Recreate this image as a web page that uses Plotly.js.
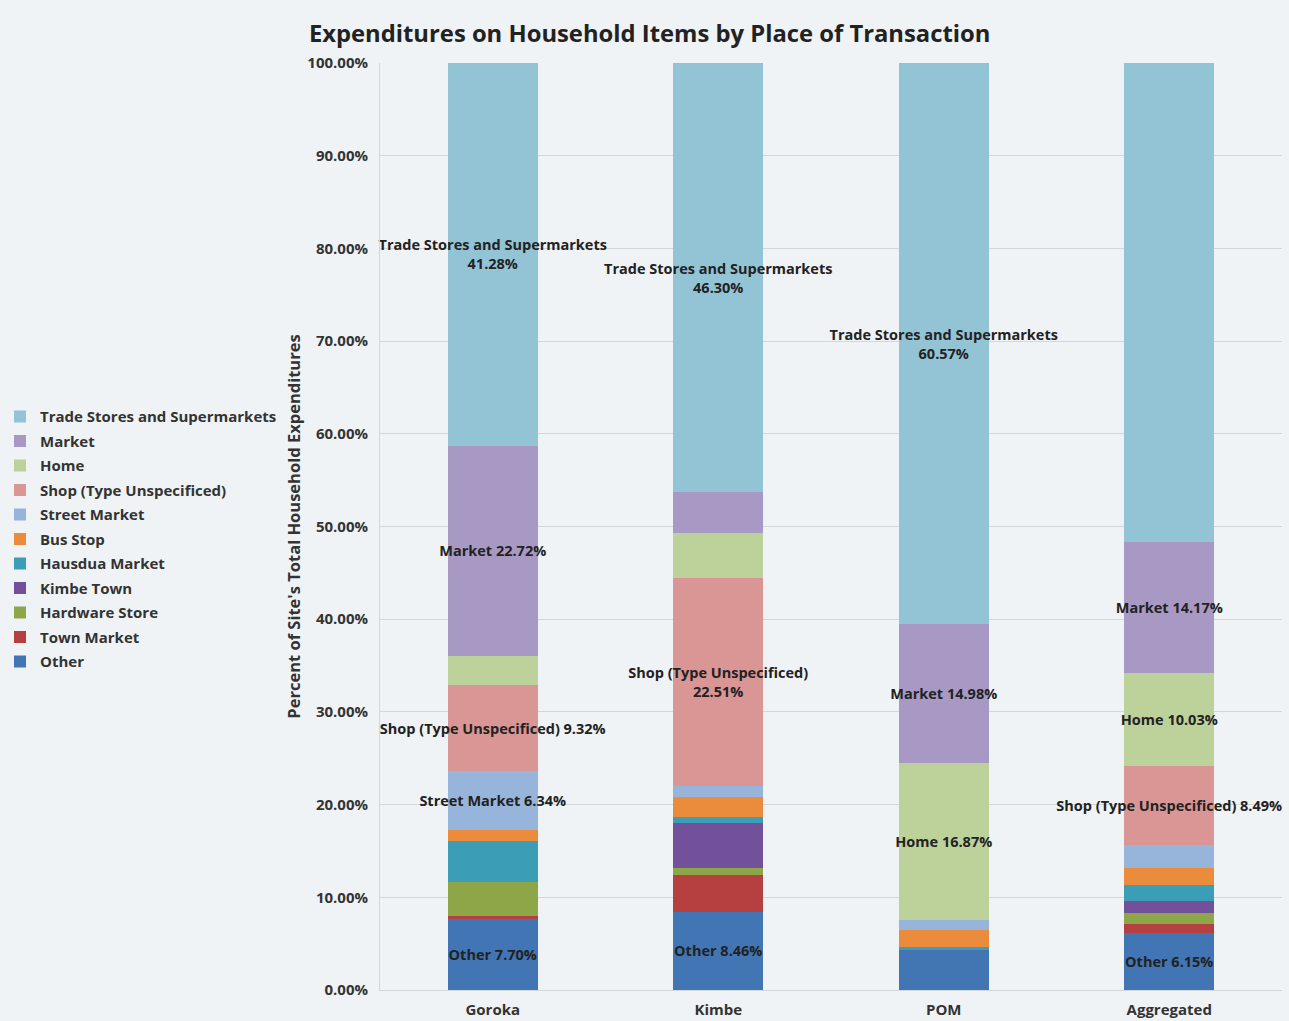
<!DOCTYPE html>
<html>
<head>
<meta charset="utf-8">
<script src="https://cdn.plot.ly/plotly-3.0.1.min.js"></script>
<style>
  html, body { margin: 0; padding: 0; background: #eff3f6; }
  #chart { width: 1289px; height: 1021px; }
</style>
</head>
<body>
<div id="chart"></div>
<script>
// ---- Data (percent of site's total household expenditures) ----
const categories = ['Goroka', 'Kimbe', 'POM', 'Aggregated'];
const seriesNames = ['Other', 'Town Market', 'Hardware Store', 'Kimbe Town', 'Hausdua Market',
  'Bus Stop', 'Street Market', 'Shop (Type Unspecificed)', 'Home', 'Market', 'Trade Stores and Supermarkets'];
const other         = [7.70, 8.46, 4.33, 6.15];
const townMarket    = [0.25, 4.00, 0.00, 1.00];
const hardwareStore = [3.70, 0.75, 0.00, 1.20];
const kimbeTown     = [0.00, 4.85, 0.00, 1.30];
const hausduaMarket = [4.40, 0.65, 0.30, 1.70];
const busStop       = [1.20, 2.15, 1.85, 1.80];
const streetMarket  = [6.34, 1.10, 1.10, 2.50];
const shop          = [9.32, 22.51, 0.00, 8.49];
const home          = [3.09, 4.85, 16.87, 10.03];
const market        = [22.72, 4.38, 14.98, 14.17];
const trade         = [41.28, 46.30, 60.57, 51.69];
const seriesValues = [other, townMarket, hardwareStore, kimbeTown, hausduaMarket,
  busStop, streetMarket, shop, home, market, trade];
const seriesColors = ['#4175b3', '#b5403f', '#8da748', '#73519a', '#3b9db6',
  '#eb8b3c', '#97b4da', '#da9694', '#bdd29a', '#a899c4', '#93c4d6'];
// which data labels are shown (0 none, 1 single line, 2 two lines)
const labelModes = {
  'Other': [1, 1, 0, 1],
  'Street Market': [1, 0, 0, 0],
  'Shop (Type Unspecificed)': [1, 2, 0, 1],
  'Home': [0, 0, 1, 1],
  'Market': [1, 0, 1, 1],
  'Trade Stores and Supermarkets': [2, 2, 2, 2]
};

const FONT = '"Open Sans", "DejaVu Sans", sans-serif';

const traces = seriesNames.map((name, i) => {
  const vals = seriesValues[i];
  const modes = labelModes[name] || [0, 0, 0, 0];
  const text = vals.map((v, j) => {
    if (!modes[j]) return '';
    const pct = v.toFixed(2) + '%';
    return modes[j] === 2 ? name + '<br>' + pct : name + ' ' + pct;
  });
  return {
    type: 'bar',
    name: name,
    x: categories,
    y: vals,
    text: text,
    textposition: 'inside',
    insidetextanchor: 'middle',
    constraintext: 'none',
    cliponaxis: false,
    textangle: 0,
    insidetextfont: { family: FONT, size: 14.5, color: '#222', weight: 700 },
    marker: { color: seriesColors[i], line: { width: 0 } },
    legendgroup: 'g' + i,
    legendrank: 100 - i,
    hoverinfo: 'name+y'
  };
});

const layout = {
  width: 1289,
  height: 1021,
  barmode: 'stack',
  bargap: 0.6,
  paper_bgcolor: '#eff3f6',
  plot_bgcolor: '#eff3f6',
  margin: { l: 380, r: 7, t: 63, b: 31, pad: 0, autoexpand: false },
  font: { family: FONT, color: '#333' },
  title: {
    text: 'Expenditures on Household Items by Place of Transaction',
    font: { family: FONT, size: 23.8, color: '#222', weight: 700 },
    xref: 'container', x: 0.504, xanchor: 'center',
    yref: 'container', y: 0.967, yanchor: 'middle'
  },
  xaxis: {
    type: 'category',
    tickfont: { family: FONT, size: 15, color: '#333', weight: 700 },
    showgrid: false,
    showline: true, linecolor: '#d3d7db', linewidth: 1,
    ticks: '', ticklen: 0,
    ticklabelstandoff: 6
  },
  yaxis: {
    range: [0, 100],
    dtick: 10,
    tickformat: '.2f',
    ticksuffix: '%',
    tickfont: { family: FONT, size: 15, color: '#333', weight: 700 },
    gridcolor: '#d3d7db', gridwidth: 1,
    showline: true, linecolor: '#d3d7db',
    zeroline: false,
    ticks: '', ticklabelstandoff: 8,
    title: {
      text: "Percent of Site's Total Household Expenditures",
      font: { family: FONT, size: 16.5, color: '#333', weight: 700 },
      standoff: 10
    }
  },
  legend: {
    xref: 'container', yref: 'container',
    x: 0, y: 0.608, xanchor: 'left', yanchor: 'top',
    traceorder: 'grouped',
    tracegroupgap: 2,
    bgcolor: 'rgba(0,0,0,0)',
    font: { family: FONT, size: 15, color: '#333', weight: 700 },
    itemwidth: 30
  },
  showlegend: true
};

Plotly.newPlot('chart', traces, layout, { displayModeBar: false, staticPlot: true });
</script>
</body>
</html>
